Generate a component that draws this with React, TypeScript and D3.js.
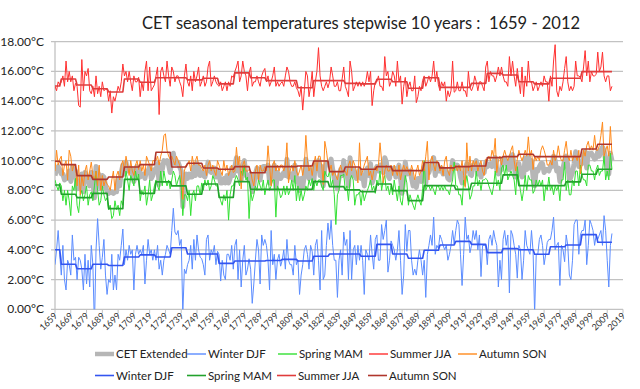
import React from 'react';
import * as d3 from 'd3';

// ---------- DATA ----------
const firstYear = 1659;
const lastYear = 2012;
const axisEndYear = 2019;
const xTickYears = d3.range(1659, 2020, 10);
const yTicks = [0, 2, 4, 6, 8, 10, 12, 14, 16, 18];
const title = 'CET seasonal temperatures stepwise 10 years :  1659 - 2012';

// Winter DJF, one value per year 1659..2012 (rows: 1659-62, then 10-year blocks 1663-72, ...)
const winterDJF = [
  3.0, 4.0, 5.3, 3.7,
  2.3, 4.3, 2.0, 1.3, 3.3, 3.0, 2.3, 5.0, 3.3, 3.5,
  2.0, 3.5, 3.3, 2.7, 1.3, 3.7, 1.7, 3.3, 1.5, 4.3,
  3.0, -1.2, 4.0, 6.1, 4.3, 2.7, 3.5, 4.7, 2.3, 1.0,
  2.0, 1.8, 3.7, 1.3, 2.3, 1.3, 3.7, 3.3, 4.3, 5.4,
  3.0, 4.0, 3.3, 4.3, 3.7, 4.0, 1.3, 3.7, 4.3, 3.7,
  4.0, 3.7, 4.3, 1.7, 3.3, 4.7, 3.7, 4.0, 3.3, 4.0,
  3.3, 4.3, 2.7, 3.3, 2.3, 3.3, 3.7, 4.3, 4.0, 3.7,
  5.3, 6.8, 5.2, 5.0, 5.3, 4.3, 4.7, -0.3, 2.7, 2.4,
  3.0, 3.3, 4.3, 2.7, 4.7, 3.3, 5.0, 4.0, 3.5, 3.4,
  3.0, 2.3, 4.7, 5.0, 3.3, 4.0, 3.7, 4.3, 3.0, 3.9,
  3.7, 1.9, 3.3, 2.3, 2.0, 3.7, 3.7, 3.3, 4.3, 2.7,
  4.3, 4.7, 2.0, 4.0, 1.5, 3.3, 4.3, 2.3, 2.7, 3.4,
  2.7, 0.4, 1.7, 3.3, 4.7, 4.0, 1.7, 5.0, 4.3, 4.7,
  4.3, 3.3, 1.3, 5.3, 3.0, 3.7, 2.0, 3.3, 3.7, 2.9,
  3.3, 4.0, 2.7, 4.7, 3.3, 3.0, 3.0, 2.3, 4.3, 3.0,
  3.3, 1.0, 2.3, 3.0, 4.0, 4.3, 3.7, 2.7, 4.3, 3.9,
  2.3, 4.3, 4.7, 3.3, 1.3, 5.3, 2.0, 2.3, 4.3, 5.8,
  4.7, 6.0, 4.3, 3.3, 3.3, 0.8, 3.3, 4.0, 2.3, 5.2,
  4.3, 4.7, 2.0, 5.3, 2.0, 4.0, 4.3, 3.0, 4.3, 3.3,
  4.3, 3.3, 1.0, 4.0, 3.7, 3.3, 5.0, 3.7, 2.7, 4.7,
  5.0, 3.3, 3.3, 5.7, 4.7, 5.3, 6.0, 2.5, 3.3, 4.6,
  4.3, 4.0, 3.3, 4.0, 5.3, 3.3, 1.0, 2.3, 5.7, 3.9,
  5.3, 5.3, 3.3, 2.3, 2.7, 2.3, 3.3, 4.0, 3.3, 2.3,
  3.3, 0.8, 3.7, 4.3, 5.0, 4.3, 6.2, 3.7, 4.3, 4.1,
  5.0, 4.7, 4.3, 4.0, 4.3, 3.3, 3.7, 4.3, 5.3, 4.4,
  5.3, 6.0, 5.7, 3.7, 1.6, 3.7, 6.2, 4.7, 5.0, 3.8,
  4.3, 5.3, 4.7, 5.3, 4.0, 5.0, 2.2, 4.3, 4.3, 4.3,
  3.0, 4.7, 5.0, 4.3, 5.3, 4.7, 4.3, 1.5, 3.3, 2.0,
  4.7, 5.3, 4.3, 5.0, 1.1, 5.3, 5.0, 4.3, 3.7, 2.1,
  4.3, 4.0, 2.0, 3.3, 5.3, 4.3, 4.0, 3.7, 5.3, 3.9,
  -0.3, 3.7, 3.7, 4.7, 5.0, 4.3, 3.0, 3.7, 4.5, 4.7,
  4.7, 5.3, 6.2, 4.0, 4.3, 4.5, 1.6, 4.3, 4.0, 3.2,
  5.0, 4.3, 2.3, 2.0, 3.3, 5.7, 6.0, 6.0, 3.7, 5.0,
  5.3, 5.3, 6.0, 3.0, 4.3, 6.0, 5.7, 5.3, 4.3, 5.0,
  4.7, 5.0, 5.3, 4.3, 6.3, 5.3, 3.3, 1.5, 4.3, 5.1,
];

const springMAM = [
  8.7, 8.3, 8.0, 8.5,
  8.3, 7.3, 8.0, 7.0, 8.0, 7.3, 6.3, 8.3, 8.0, 8.8,
  7.0, 6.5, 7.7, 8.0, 7.3, 7.7, 8.3, 7.0, 7.7, 7.9,
  7.3, 8.3, 9.3, 8.0, 7.0, 7.3, 8.3, 7.7, 7.3, 7.5,
  6.7, 7.0, 6.1, 6.3, 7.3, 6.7, 7.0, 6.3, 7.3, 7.0,
  8.3, 9.3, 8.7, 8.0, 9.0, 8.7, 8.3, 9.3, 8.7, 9.1,
  7.3, 8.0, 7.7, 8.3, 7.0, 7.7, 8.7, 7.3, 7.7, 8.3,
  8.7, 8.3, 8.0, 9.3, 8.3, 9.3, 8.7, 8.3, 8.7, 8.1,
  8.7, 9.3, 9.0, 8.3, 8.7, 9.0, 8.3, 6.3, 7.7, 7.7,
  7.3, 8.0, 6.3, 7.7, 8.0, 7.3, 8.3, 8.3, 7.7, 8.5,
  8.0, 8.7, 8.3, 8.7, 8.0, 8.3, 9.0, 8.7, 8.3, 8.3,
  7.7, 7.3, 7.0, 7.7, 7.3, 8.0, 6.0, 7.7, 8.3, 8.3,
  8.7, 9.0, 8.7, 8.3, 9.3, 9.0, 9.7, 8.7, 8.9, 6.1,
  8.0, 7.3, 7.7, 8.3, 8.0, 8.7, 8.3, 8.0, 8.7, 7.7,
  8.3, 8.7, 8.0, 8.3, 8.7, 8.7, 6.2, 8.3, 8.0, 7.5,
  7.7, 8.3, 7.7, 8.3, 7.7, 8.0, 8.7, 8.0, 9.0, 7.3,
  8.3, 7.3, 8.0, 7.3, 7.7, 8.3, 8.0, 8.7, 8.3, 8.8,
  8.0, 8.7, 8.3, 8.7, 8.7, 8.3, 8.0, 9.3, 9.0, 8.9,
  9.3, 8.3, 8.7, 7.7, 5.7, 7.7, 8.0, 9.0, 9.0, 9.1,
  8.0, 8.3, 7.3, 8.7, 9.0, 8.7, 7.0, 7.7, 7.7, 7.9,
  7.0, 8.0, 7.3, 7.7, 8.0, 8.3, 8.7, 8.0, 8.3, 7.8,
  8.7, 8.3, 9.3, 8.0, 8.7, 9.0, 8.0, 8.3, 7.7, 8.3,
  7.7, 8.7, 8.0, 7.3, 8.3, 7.3, 7.0, 8.0, 9.0, 8.5,
  7.0, 7.7, 7.3, 7.0, 6.7, 7.3, 7.7, 7.3, 7.0, 8.1,
  10.0, 8.0, 8.3, 8.3, 8.0, 8.3, 8.0, 7.7, 8.3, 8.3,
  8.0, 8.3, 8.0, 8.3, 8.0, 8.0, 7.7, 8.3, 8.7, 9.9,
  8.3, 8.3, 7.7, 7.7, 7.0, 8.7, 8.3, 9.0, 8.3, 7.4,
  7.7, 8.3, 8.3, 9.3, 8.3, 8.7, 8.0, 8.7, 8.7, 8.8,
  8.7, 8.3, 8.0, 7.7, 8.3, 9.3, 8.3, 8.7, 8.0, 9.5,
  9.7, 9.0, 9.7, 8.7, 9.0, 9.3, 9.0, 8.7, 7.7, 9.6,
  8.7, 8.0, 7.3, 8.0, 9.0, 8.0, 9.0, 8.7, 8.7, 7.8,
  8.0, 8.7, 8.3, 8.7, 8.3, 8.7, 7.3, 8.3, 8.0, 8.9,
  8.0, 8.3, 7.7, 8.3, 8.0, 8.3, 7.3, 8.7, 8.7, 9.9,
  8.0, 8.7, 7.7, 7.7, 8.7, 8.3, 9.3, 9.3, 8.3, 9.7,
  9.0, 8.7, 8.7, 8.3, 9.7, 9.7, 9.3, 9.3, 8.7, 9.4,
  9.7, 9.0, 9.3, 9.3, 10.3, 8.7, 9.3, 8.7, 10.5, 9.4,
];

const summerJJA = [
  15.0, 14.7, 15.3, 15.1,
  15.3, 15.7, 15.0, 16.7, 15.3, 16.0, 15.3, 15.7, 14.7, 15.2,
  15.0, 13.7, 13.6, 16.8, 14.7, 16.0, 15.7, 16.2, 14.7, 14.5,
  15.0, 14.3, 15.7, 14.5, 15.0, 14.3, 15.3, 14.7, 14.8, 14.8,
  14.0, 14.7, 13.2, 14.3, 14.0, 14.5, 15.0, 14.7, 15.3, 16.5,
  15.7, 16.0, 15.3, 16.0, 15.3, 14.7, 15.7, 15.3, 15.3, 15.6,
  14.3, 15.3, 14.7, 16.0, 16.7, 14.7, 16.3, 14.7, 14.9, 15.1,
  15.7, 16.3, 13.1, 16.0, 16.3, 15.7, 15.3, 16.7, 15.7, 15.0,
  16.3, 16.0, 15.3, 15.7, 15.7, 15.3, 15.0, 14.3, 15.7, 16.5,
  15.3, 15.0, 15.7, 14.7, 16.0, 15.3, 15.7, 16.3, 15.0, 15.3,
  15.7, 15.0, 15.3, 16.3, 16.7, 15.0, 15.3, 15.7, 15.3, 15.1,
  15.0, 15.3, 14.7, 15.0, 15.3, 14.7, 15.3, 15.0, 15.7, 15.6,
  16.0, 16.3, 16.7, 15.3, 15.7, 16.7, 16.0, 15.7, 14.7, 15.9,
  16.3, 15.0, 15.3, 15.3, 15.7, 15.3, 15.0, 15.7, 16.0, 16.2,
  15.3, 15.7, 15.0, 15.3, 15.7, 16.3, 15.0, 15.3, 15.0, 15.2,
  15.3, 15.0, 15.7, 16.3, 16.0, 15.3, 15.0, 15.0, 15.3, 14.9,
  14.7, 14.3, 15.0, 13.4, 14.7, 16.0, 15.7, 14.3, 15.0, 16.0,
  14.3, 15.3, 16.0, 17.6, 15.7, 15.0, 14.7, 15.0, 15.3, 14.9,
  15.3, 16.3, 15.7, 15.0, 15.0, 15.3, 14.7, 14.7, 15.5, 16.3,
  15.0, 14.7, 14.3, 16.7, 16.0, 14.7, 15.0, 15.3, 15.0, 15.3,
  15.0, 15.3, 15.0, 15.3, 16.0, 15.3, 16.0, 13.7, 14.7, 15.3,
  15.3, 15.7, 15.0, 15.0, 14.7, 17.0, 15.7, 16.0, 15.0, 15.3,
  16.0, 15.7, 15.0, 16.7, 15.3, 15.7, 13.8, 15.0, 15.6, 14.3,
  15.0, 15.3, 14.7, 14.7, 15.7, 13.9, 14.3, 15.0, 14.7, 15.4,
  15.7, 15.0, 15.3, 15.7, 15.3, 15.7, 16.7, 15.3, 16.0, 15.1,
  14.7, 15.3, 15.0, 15.3, 14.0, 14.7, 14.3, 14.7, 16.7, 14.6,
  14.7, 15.3, 14.7, 14.7, 15.3, 14.7, 14.7, 14.3, 16.0, 14.9,
  14.7, 15.0, 15.7, 15.3, 14.7, 15.3, 15.3, 15.0, 14.7, 16.3,
  16.7, 15.3, 16.0, 15.7, 15.7, 15.3, 15.7, 16.3, 15.7, 16.3,
  15.7, 15.3, 15.3, 15.0, 17.0, 15.7, 16.7, 15.7, 15.0, 16.2,
  15.3, 14.5, 16.3, 14.3, 15.7, 15.0, 16.7, 15.3, 15.3, 14.7,
  15.0, 15.3, 14.7, 15.0, 15.3, 15.0, 15.7, 15.3, 15.3, 14.0,
  15.7, 15.0, 16.7, 17.8, 14.7, 14.3, 15.0, 14.7, 15.3, 16.2,
  17.0, 15.3, 14.7, 15.0, 14.7, 15.0, 16.7, 15.7, 15.7, 15.6,
  15.3, 16.3, 17.4, 15.7, 16.7, 15.3, 16.0, 15.7, 15.7, 15.8,
  17.3, 16.0, 16.3, 17.3, 15.7, 15.3, 15.7, 15.7, 14.7, 15.0,
];

const autumnSON = [
  9.3, 10.7, 9.7, 10.1,
  10.3, 9.0, 9.7, 10.0, 8.7, 10.7, 10.3, 9.3, 9.7, 9.6,
  8.3, 9.7, 7.7, 9.0, 8.3, 9.3, 9.7, 8.7, 9.3, 9.9,
  9.0, 8.7, 9.3, 8.3, 9.7, 8.0, 9.0, 8.3, 8.7, 8.4,
  8.3, 8.0, 8.7, 9.3, 8.0, 9.0, 9.3, 8.7, 9.7, 10.0,
  9.3, 10.3, 9.7, 9.0, 10.0, 9.3, 9.0, 9.7, 10.0, 9.4,
  10.0, 9.3, 9.7, 9.0, 10.3, 10.0, 9.7, 9.3, 10.0, 10.0,
  10.0, 10.3, 9.7, 10.3, 10.7, 11.7, 11.8, 10.7, 10.3, 10.1,
  10.3, 10.0, 9.7, 10.3, 10.0, 9.7, 9.3, 7.4, 9.3, 9.7,
  9.7, 10.0, 9.3, 10.3, 9.7, 10.0, 10.3, 9.7, 9.7, 9.5,
  9.3, 9.7, 9.0, 9.7, 10.0, 9.3, 9.7, 9.3, 9.0, 10.0,
  9.7, 9.3, 9.0, 10.0, 9.3, 9.7, 9.0, 9.3, 9.7, 9.2,
  9.3, 10.9, 9.7, 10.3, 8.1, 9.7, 10.0, 9.3, 9.3, 9.4,
  9.3, 8.7, 8.3, 9.3, 9.7, 8.7, 9.7, 9.3, 9.3, 9.6,
  9.3, 11.0, 9.7, 8.3, 9.7, 10.0, 9.3, 9.7, 9.3, 9.7,
  9.7, 9.3, 9.7, 11.2, 8.5, 9.3, 9.7, 9.3, 10.0, 9.3,
  9.0, 9.3, 9.7, 9.0, 9.7, 11.7, 10.0, 9.3, 9.7, 9.0,
  9.7, 10.3, 9.3, 10.3, 10.3, 9.7, 8.4, 11.3, 10.7, 9.8,
  9.3, 9.7, 9.0, 9.3, 9.0, 8.7, 9.3, 9.7, 9.3, 9.3,
  9.3, 9.0, 9.7, 10.0, 9.3, 10.0, 9.7, 9.3, 8.5, 11.2,
  9.0, 9.3, 9.7, 10.0, 10.3, 9.0, 9.3, 8.7, 9.3, 9.6,
  9.3, 9.7, 11.2, 10.0, 8.5, 9.3, 9.7, 9.3, 9.3, 9.7,
  9.0, 9.7, 9.3, 9.0, 9.7, 8.7, 9.3, 9.7, 9.3, 9.6,
  9.3, 9.0, 9.7, 9.3, 8.7, 9.3, 9.7, 9.0, 9.3, 10.0,
  9.3, 10.3, 11.3, 8.7, 10.0, 10.3, 9.7, 9.3, 10.0, 9.8,
  9.3, 9.7, 9.0, 10.0, 10.3, 9.3, 9.0, 9.7, 9.3, 9.5,
  9.7, 9.3, 9.7, 9.3, 10.0, 9.0, 8.2, 11.2, 9.3, 10.3,
  9.3, 10.0, 9.7, 10.0, 9.3, 9.7, 10.0, 9.3, 9.0, 10.1,
  10.0, 10.3, 10.0, 10.7, 10.3, 11.5, 9.2, 10.0, 10.3, 9.7,
  10.3, 10.7, 10.3, 10.0, 10.3, 10.7, 11.0, 10.0, 9.3, 10.1,
  10.7, 10.3, 10.0, 10.3, 10.7, 10.3, 11.6, 10.3, 10.7, 9.4,
  10.3, 10.0, 10.3, 10.0, 10.7, 11.0, 10.7, 10.3, 9.7, 9.7,
  10.0, 9.7, 10.7, 10.0, 10.3, 11.0, 10.3, 10.0, 10.0, 10.7,
  11.3, 10.3, 10.0, 10.7, 10.0, 10.3, 10.3, 10.0, 10.7, 9.1,
  9.7, 10.7, 10.3, 11.0, 11.3, 10.7, 11.0, 10.7, 11.7, 10.7,
  10.7, 11.0, 11.7, 12.6, 10.3, 10.7, 11.0, 10.3, 12.3, 10.4,
];

// CET Extended annual mean
const cetExtended = [
  9.0, 9.4, 9.6, 9.4,
  9.1, 9.1, 8.7, 8.8, 8.8, 9.3, 8.6, 9.6, 8.9, 9.3,
  8.1, 8.4, 8.1, 9.1, 7.9, 9.2, 8.9, 8.8, 8.3, 9.2,
  8.6, 7.5, 9.6, 9.2, 9.0, 8.1, 9.0, 8.9, 8.3, 7.9,
  7.8, 7.9, 7.9, 7.8, 7.9, 7.9, 8.8, 8.3, 9.2, 9.7,
  9.1, 9.9, 9.3, 9.3, 9.5, 9.2, 8.6, 9.5, 9.6, 9.5,
  8.9, 9.1, 9.1, 8.8, 9.3, 9.3, 9.6, 8.8, 9.0, 9.4,
  9.4, 9.8, 8.4, 9.7, 9.4, 10.0, 9.9, 10.0, 9.7, 9.2,
  10.2, 10.5, 9.8, 9.8, 9.9, 9.6, 9.3, 6.9, 8.9, 9.1,
  8.8, 9.1, 8.9, 8.9, 9.6, 9.0, 9.8, 9.6, 9.0, 9.2,
  9.0, 8.9, 9.3, 9.9, 9.5, 9.2, 9.4, 9.5, 8.9, 9.3,
  9.0, 8.5, 8.5, 8.8, 8.5, 9.0, 8.5, 8.8, 9.5, 9.0,
  9.6, 10.2, 9.3, 9.5, 8.7, 9.7, 10.0, 9.0, 8.9, 8.7,
  9.1, 7.9, 8.3, 9.1, 9.5, 9.2, 8.7, 9.5, 9.6, 9.6,
  9.3, 9.7, 8.5, 9.3, 9.3, 9.7, 8.1, 9.2, 9.0, 8.8,
  9.0, 9.2, 9.0, 10.1, 8.9, 8.9, 9.1, 8.7, 9.7, 8.6,
  8.8, 8.0, 8.8, 8.2, 9.0, 10.1, 9.4, 8.8, 9.3, 9.4,
  8.6, 9.7, 9.6, 10.0, 9.0, 9.6, 8.3, 9.5, 9.8, 9.9,
  9.7, 10.1, 9.4, 8.8, 8.3, 8.1, 8.8, 9.4, 9.0, 10.0,
  9.2, 9.2, 8.3, 10.2, 9.1, 9.4, 9.0, 8.8, 8.9, 9.4,
  8.8, 9.0, 8.3, 9.3, 9.5, 9.0, 9.8, 8.5, 8.8, 9.4,
  9.6, 9.3, 9.7, 9.7, 9.2, 10.2, 9.9, 9.0, 8.8, 9.5,
  9.3, 9.5, 8.9, 9.3, 9.7, 8.8, 7.8, 8.8, 9.9, 9.1,
  9.2, 9.3, 8.8, 8.3, 8.5, 8.2, 8.8, 8.8, 8.6, 9.0,
  9.6, 8.5, 9.7, 9.2, 9.6, 9.7, 10.2, 9.0, 9.7, 9.3,
  9.3, 9.5, 9.1, 9.4, 9.2, 8.8, 8.7, 9.3, 10.0, 9.6,
  9.5, 9.7, 9.5, 8.9, 8.5, 9.0, 9.4, 9.8, 9.7, 9.1,
  9.0, 9.7, 9.6, 10.0, 9.1, 9.7, 8.9, 9.3, 9.2, 9.9,
  9.6, 9.7, 9.8, 9.6, 9.9, 10.2, 9.4, 9.1, 9.3, 9.4,
  10.1, 10.1, 9.9, 9.7, 9.4, 10.3, 10.4, 9.7, 8.9, 9.5,
  9.8, 9.2, 8.9, 9.0, 10.2, 9.4, 10.3, 9.5, 10.0, 8.9,
  8.3, 9.4, 9.3, 9.6, 9.8, 9.8, 9.2, 9.4, 9.4, 9.3,
  9.6, 9.6, 10.3, 10.0, 9.3, 9.5, 8.6, 9.4, 9.5, 10.0,
  10.3, 9.7, 8.7, 8.9, 9.2, 9.8, 10.6, 10.3, 9.6, 9.9,
  9.8, 10.3, 10.6, 9.5, 10.5, 10.4, 10.5, 10.3, 10.1, 10.2,
  10.6, 10.3, 10.7, 10.9, 10.7, 10.0, 9.8, 9.1, 10.5, 10.0,
];

// Stepwise 10-year means: 1659-62, 1663-72, ..., 2003-12
const winterStep = [4.01, 3.03, 2.73, 3.03, 2.95, 3.52, 3.66, 3.52, 4.14, 3.72, 3.72, 3.09, 3.25, 3.25, 3.28, 3.36, 3.25, 3.57, 3.72, 3.72, 3.57, 4.37, 3.72, 3.43, 3.97, 4.33, 4.57, 4.37, 3.81, 4.08, 4.01, 3.70, 4.21, 4.33, 5.02, 4.51];
const springStep = [8.36, 7.74, 7.51, 7.80, 6.77, 8.74, 7.80, 8.57, 8.30, 7.74, 8.43, 7.53, 8.59, 8.07, 8.07, 8.07, 8.07, 8.59, 8.25, 8.03, 7.91, 8.43, 7.98, 7.31, 8.32, 8.32, 8.07, 8.48, 8.48, 9.04, 8.32, 8.32, 8.32, 8.57, 9.08, 9.42];
const summerStep = [15.02, 15.49, 15.09, 14.84, 14.62, 15.49, 15.27, 15.58, 15.58, 15.43, 15.54, 15.16, 15.90, 15.58, 15.38, 15.38, 14.90, 15.38, 15.38, 15.20, 15.16, 15.47, 15.31, 14.87, 15.58, 14.93, 14.93, 15.20, 15.87, 15.76, 15.31, 15.16, 15.54, 15.54, 15.99, 15.99];
const autumnStep = [9.96, 9.73, 8.99, 8.74, 8.90, 9.57, 9.73, 10.56, 9.57, 9.82, 9.50, 9.42, 9.60, 9.19, 9.60, 9.60, 9.64, 9.98, 9.26, 9.57, 9.42, 9.60, 9.33, 9.33, 9.87, 9.51, 9.60, 9.64, 10.20, 10.27, 10.43, 10.27, 10.27, 10.27, 10.78, 11.10];

const legendRow1 = ['CET Extended', 'Winter DJF', 'Spring MAM', 'Summer JJA', 'Autumn SON'];
const legendRow2 = ['Winter DJF', 'Spring MAM', 'Summer JJA', 'Autumn SON'];

// ---------- STYLE ----------
const C = {
  cet: '#b6b6b6',
  winter: '#5b8cff',
  spring: '#33e033',
  summer: '#ff3030',
  autumn: '#ff8a1c',
  winterStep: '#3355f0',
  springStep: '#22a22c',
  summerStep: '#e03c3c',
  autumnStep: '#b0362c',
  grid: '#c2c2c2',
};
const FONT = 'Lato, "Open Sans", sans-serif';

export default function App() {
  const left = 55, right = 623, top = 41.7, bottom = 309.3;
  const x = d3.scaleLinear().domain([firstYear, axisEndYear]).range([left, right]);
  const y = d3.scaleLinear().domain([0, 18]).range([bottom, top]);
  const years = d3.range(firstYear, lastYear + 1);

  const path = (vals: number[]) =>
    d3.line<number>().x((_, i) => x(years[i])).y((v) => y(v))(vals) || '';
  const stepIdx = (yr: number) => (yr < 1663 ? 0 : 1 + Math.floor((yr - 1663) / 10));
  const stepPath = (steps: number[]) => path(years.map((yr) => steps[stepIdx(yr)]));

  const row1Style = [
    { color: C.cet, w: 4.5, x: 95 },
    { color: C.winter, w: 1.4, x: 187 },
    { color: C.spring, w: 1.4, x: 278 },
    { color: C.summer, w: 1.4, x: 369 },
    { color: C.autumn, w: 1.4, x: 458 },
  ];
  const row2Style = [
    { color: C.winterStep, w: 1.6, x: 95 },
    { color: C.springStep, w: 1.6, x: 187 },
    { color: C.summerStep, w: 1.6, x: 277 },
    { color: C.autumnStep, w: 1.6, x: 368 },
  ];
  const rows = [
    legendRow1.map((label, i) => ({ label, ...row1Style[i] })),
    legendRow2.map((label, i) => ({ label, ...row2Style[i] })),
  ];

  return (
    <svg width={640} height={389} style={{ position: 'absolute', left: 0, top: 0, background: '#fff' }}
      fontFamily={FONT}>
      <defs>
        <clipPath id="plotClip">
          <rect x={left} y={top - 4} width={right - left} height={bottom - top + 4} />
        </clipPath>
      </defs>
      <text x={361} y={29} textAnchor="middle" fontSize={16.5} fill="#222" xmlSpace="preserve"
        style={{ whiteSpace: 'pre' }}>{title}</text>

      {yTicks.map((t) => (
        <g key={t}>
          <line x1={left - 4} x2={right} y1={y(t)} y2={y(t)} stroke={C.grid} strokeWidth={1.3} />
          <text x={44} y={y(t) + 4} textAnchor="end" fontSize={12} fill="#222">{t.toFixed(2)}°C</text>
        </g>
      ))}
      <line x1={left} x2={left} y1={top} y2={bottom} stroke={C.grid} strokeWidth={1.3} />
      {xTickYears.map((yr) => (
        <g key={yr}>
          <line x1={x(yr)} x2={x(yr)} y1={bottom} y2={bottom + 4} stroke={C.grid} strokeWidth={1} />
          <text transform={`translate(${x(yr) + 3},${bottom + 7}) rotate(-45)`} textAnchor="end"
            fontSize={9} fill="#333">{yr}</text>
        </g>
      ))}

      <g clipPath="url(#plotClip)" fill="none" strokeLinejoin="round">
        <path d={path(cetExtended)} stroke={C.cet} strokeWidth={5} />
        <path d={path(winterDJF)} stroke={C.winter} strokeWidth={1} />
        <path d={path(springMAM)} stroke={C.spring} strokeWidth={1} />
        <path d={path(summerJJA)} stroke={C.summer} strokeWidth={1} />
        <path d={path(autumnSON)} stroke={C.autumn} strokeWidth={1} />
        <path d={stepPath(winterStep)} stroke={C.winterStep} strokeWidth={1.6} />
        <path d={stepPath(springStep)} stroke={C.springStep} strokeWidth={1.6} />
        <path d={stepPath(summerStep)} stroke={C.summerStep} strokeWidth={1.6} />
        <path d={stepPath(autumnStep)} stroke={C.autumnStep} strokeWidth={1.6} />
      </g>

      {rows.map((row, r) =>
        row.map((it) => (
          <g key={`${r}-${it.label}`}>
            <line x1={it.x} x2={it.x + 19} y1={354 + r * 21.5} y2={354 + r * 21.5} stroke={it.color} strokeWidth={it.w} />
            <text x={it.x + 21} y={358 + r * 21.5} fontSize={11.5} fill="#222">{it.label}</text>
          </g>
        ))
      )}
    </svg>
  );
}
